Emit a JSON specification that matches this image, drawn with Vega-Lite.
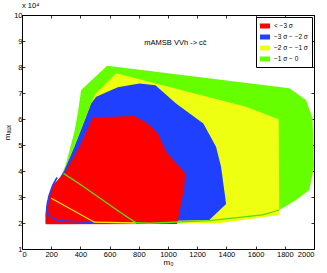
{
  "$schema": "https://vega.github.io/schema/vega-lite/v6.json",
  "width": 292,
  "height": 234,
  "autosize": {"type": "none"},
  "padding": {"left": 22, "top": 15, "right": 13, "bottom": 24},
  "config": {
    "font": "Liberation Sans",
    "view": {"stroke": null},
    "axis": {
      "grid": false,
      "domainColor": "black",
      "domainWidth": 1,
      "tickColor": "black",
      "tickWidth": 0.8,
      "labelColor": "black",
      "labelFontSize": 7.5,
      "titleColor": "black",
      "titleFontSize": 8,
      "titleFontWeight": "normal"
    },
    "legend": {
      "labelFont": "Liberation Sans"
    }
  },
  "title": {
    "text": "x 10⁴",
    "anchor": "start",
    "frame": "group",
    "fontSize": 7.5,
    "fontWeight": "normal",
    "color": "black",
    "offset": 2
  },
  "datasets": {
    "poly": [
      {"level": "−1 σ − 0", "i": 0, "m0": 583, "maux": 80500},
      {"level": "−1 σ − 0", "i": 1, "m0": 405, "maux": 71200},
      {"level": "−1 σ − 0", "i": 2, "m0": 382, "maux": 62200},
      {"level": "−1 σ − 0", "i": 3, "m0": 359, "maux": 55100},
      {"level": "−1 σ − 0", "i": 4, "m0": 302, "maux": 43000},
      {"level": "−1 σ − 0", "i": 5, "m0": 268, "maux": 37800},
      {"level": "−1 σ − 0", "i": 6, "m0": 211, "maux": 32700},
      {"level": "−1 σ − 0", "i": 7, "m0": 175, "maux": 28500},
      {"level": "−1 σ − 0", "i": 8, "m0": 161, "maux": 23100},
      {"level": "−1 σ − 0", "i": 9, "m0": 161, "maux": 19700},
      {"level": "−1 σ − 0", "i": 10, "m0": 873, "maux": 19900},
      {"level": "−1 σ − 0", "i": 11, "m0": 1283, "maux": 20900},
      {"level": "−1 σ − 0", "i": 12, "m0": 1648, "maux": 23100},
      {"level": "−1 σ − 0", "i": 13, "m0": 1762, "maux": 25000},
      {"level": "−1 σ − 0", "i": 14, "m0": 1877, "maux": 28800},
      {"level": "−1 σ − 0", "i": 15, "m0": 1968, "maux": 32700},
      {"level": "−1 σ − 0", "i": 16, "m0": 2000, "maux": 41700},
      {"level": "−1 σ − 0", "i": 17, "m0": 1990, "maux": 60300},
      {"level": "−1 σ − 0", "i": 18, "m0": 1945, "maux": 67300},
      {"level": "−1 σ − 0", "i": 19, "m0": 1831, "maux": 71800},

      {"level": "−2 σ − −1 σ", "i": 0, "m0": 645, "maux": 77600},
      {"level": "−2 σ − −1 σ", "i": 1, "m0": 500, "maux": 69500},
      {"level": "−2 σ − −1 σ", "i": 2, "m0": 470, "maux": 65500},
      {"level": "−2 σ − −1 σ", "i": 3, "m0": 430, "maux": 60000},
      {"level": "−2 σ − −1 σ", "i": 4, "m0": 350, "maux": 48500},
      {"level": "−2 σ − −1 σ", "i": 5, "m0": 295, "maux": 41000},
      {"level": "−2 σ − −1 σ", "i": 6, "m0": 268, "maux": 37800},
      {"level": "−2 σ − −1 σ", "i": 7, "m0": 211, "maux": 32700},
      {"level": "−2 σ − −1 σ", "i": 8, "m0": 175, "maux": 28500},
      {"level": "−2 σ − −1 σ", "i": 9, "m0": 161, "maux": 23100},
      {"level": "−2 σ − −1 σ", "i": 10, "m0": 161, "maux": 19700},
      {"level": "−2 σ − −1 σ", "i": 11, "m0": 1352, "maux": 19900},
      {"level": "−2 σ − −1 σ", "i": 12, "m0": 1762, "maux": 23100},
      {"level": "−2 σ − −1 σ", "i": 13, "m0": 1762, "maux": 25500},
      {"level": "−2 σ − −1 σ", "i": 14, "m0": 1758, "maux": 59900},
      {"level": "−2 σ − −1 σ", "i": 15, "m0": 1534, "maux": 64700},

      {"level": "−3 σ − −2 σ", "i": 0, "m0": 508, "maux": 68600},
      {"level": "−3 σ − −2 σ", "i": 1, "m0": 656, "maux": 72200},
      {"level": "−3 σ − −2 σ", "i": 2, "m0": 804, "maux": 73700},
      {"level": "−3 σ − −2 σ", "i": 3, "m0": 914, "maux": 73000},
      {"level": "−3 σ − −2 σ", "i": 4, "m0": 1055, "maux": 66000},
      {"level": "−3 σ − −2 σ", "i": 5, "m0": 1242, "maux": 58300},
      {"level": "−3 σ − −2 σ", "i": 6, "m0": 1329, "maux": 49300},
      {"level": "−3 σ − −2 σ", "i": 7, "m0": 1363, "maux": 41700},
      {"level": "−3 σ − −2 σ", "i": 8, "m0": 1398, "maux": 27300},
      {"level": "−3 σ − −2 σ", "i": 9, "m0": 1283, "maux": 21200},
      {"level": "−3 σ − −2 σ", "i": 10, "m0": 161, "maux": 19700},
      {"level": "−3 σ − −2 σ", "i": 11, "m0": 161, "maux": 23700},
      {"level": "−3 σ − −2 σ", "i": 12, "m0": 170, "maux": 28200},
      {"level": "−3 σ − −2 σ", "i": 13, "m0": 222, "maux": 34000},
      {"level": "−3 σ − −2 σ", "i": 14, "m0": 291, "maux": 40400},
      {"level": "−3 σ − −2 σ", "i": 15, "m0": 359, "maux": 49300},
      {"level": "−3 σ − −2 σ", "i": 16, "m0": 439, "maux": 60900},
      {"level": "−3 σ − −2 σ", "i": 17, "m0": 474, "maux": 66000},

      {"level": "< −3 σ", "i": 0, "m0": 485, "maux": 60700},
      {"level": "< −3 σ", "i": 1, "m0": 770, "maux": 61200},
      {"level": "< −3 σ", "i": 2, "m0": 861, "maux": 58300},
      {"level": "< −3 σ", "i": 3, "m0": 930, "maux": 54500},
      {"level": "< −3 σ", "i": 4, "m0": 987, "maux": 47400},
      {"level": "< −3 σ", "i": 5, "m0": 1117, "maux": 39100},
      {"level": "< −3 σ", "i": 6, "m0": 1112, "maux": 34000},
      {"level": "< −3 σ", "i": 7, "m0": 1066, "maux": 20500},
      {"level": "< −3 σ", "i": 8, "m0": 1060, "maux": 19600},
      {"level": "< −3 σ", "i": 9, "m0": 165, "maux": 19500},
      {"level": "< −3 σ", "i": 10, "m0": 165, "maux": 23100},
      {"level": "< −3 σ", "i": 11, "m0": 172, "maux": 25000},
      {"level": "< −3 σ", "i": 12, "m0": 183, "maux": 30100},
      {"level": "< −3 σ", "i": 13, "m0": 211, "maux": 34600},
      {"level": "< −3 σ", "i": 14, "m0": 291, "maux": 39100},
      {"level": "< −3 σ", "i": 15, "m0": 394, "maux": 49300},
      {"level": "< −3 σ", "i": 16, "m0": 485, "maux": 60700}
    ],
    "lines": [
      {"line": "blue", "i": 0, "m0": 240, "maux": 37500},
      {"line": "blue", "i": 1, "m0": 211, "maux": 34600},
      {"line": "blue", "i": 2, "m0": 183, "maux": 30100},
      {"line": "blue", "i": 3, "m0": 170, "maux": 25000},
      {"line": "blue", "i": 4, "m0": 188, "maux": 22400},
      {"line": "blue", "i": 5, "m0": 257, "maux": 20800},
      {"line": "blue", "i": 6, "m0": 500, "maux": 20200},
      {"line": "yellow", "i": 0, "m0": 200, "maux": 29500},
      {"line": "yellow", "i": 1, "m0": 496, "maux": 20300},
      {"line": "yellow", "i": 2, "m0": 781, "maux": 20000},
      {"line": "green", "i": 0, "m0": 284, "maux": 39100},
      {"line": "green", "i": 1, "m0": 405, "maux": 34600},
      {"line": "green", "i": 2, "m0": 667, "maux": 24300},
      {"line": "green", "i": 3, "m0": 781, "maux": 20100},
      {"line": "green", "i": 4, "m0": 873, "maux": 19900},
      {"line": "green", "i": 5, "m0": 1283, "maux": 20900},
      {"line": "green", "i": 6, "m0": 1648, "maux": 23100},
      {"line": "green", "i": 7, "m0": 1762, "maux": 25000}
    ],
    "labels": [
      {"m0": 1051, "maux": 89100, "text": "mAMSB  VVh -> cc̄"}
    ]
  },
  "resolve": {"axis": {"x": "independent", "y": "independent"}},
  "layer": [
    {
      "data": {"name": "poly"},
      "transform": [{"filter": "datum.level === '−1 σ − 0'"}],
      "mark": {"type": "line", "strokeOpacity": 0, "strokeWidth": 0},
      "encoding": {
        "x": {"field": "m0", "type": "quantitative", "scale": {"domain": [0, 2000], "nice": false, "zero": false},
          "axis": {"orient": "bottom", "values": [0, 200, 400, 600, 800, 1000, 1200, 1400, 1600, 1800, 2000], "format": "d", "title": "m₀", "tickSize": -3, "labelPadding": 4, "titlePadding": 1}},
        "y": {"field": "maux", "type": "quantitative", "scale": {"domain": [10000, 100000], "nice": false, "zero": false},
          "axis": {"orient": "left", "values": [10000, 20000, 30000, 40000, 50000, 60000, 70000, 80000, 90000, 100000], "labelExpr": "datum.value / 10000", "title": "mₐᵤₓ", "tickSize": -3, "labelPadding": 3, "titlePadding": 2}},
        "order": {"field": "i", "type": "quantitative"},
        "fill": {"field": "level", "type": "nominal",
          "scale": {"domain": ["< −3 σ", "−3 σ − −2 σ", "−2 σ − −1 σ", "−1 σ − 0"], "range": ["#ff0000", "#2040ff", "#eeff11", "#66ff00"]},
          "legend": {"title": null, "orient": "top-right", "offset": 2, "padding": 4, "rowPadding": 2, "labelFontSize": 6.5, "labelColor": "black", "symbolType": "M-1,-0.5L1,-0.5L1,0.5L-1,0.5Z", "symbolSize": 100, "symbolStrokeWidth": 0, "symbolOpacity": 1, "strokeColor": "black", "fillColor": "white", "cornerRadius": 0, "labelOffset": 4}}
      }
    },
    {
      "data": {"name": "poly"},
      "transform": [{"filter": "datum.level === '−2 σ − −1 σ'"}],
      "mark": {"type": "line", "strokeOpacity": 0, "strokeWidth": 0},
      "encoding": {
        "x": {"field": "m0", "type": "quantitative", "axis": null},
        "y": {"field": "maux", "type": "quantitative", "axis": null},
        "order": {"field": "i", "type": "quantitative"},
        "fill": {"field": "level", "type": "nominal"}
      }
    },
    {
      "data": {"name": "poly"},
      "transform": [{"filter": "datum.level === '−3 σ − −2 σ'"}],
      "mark": {"type": "line", "strokeOpacity": 0, "strokeWidth": 0},
      "encoding": {
        "x": {"field": "m0", "type": "quantitative", "axis": null},
        "y": {"field": "maux", "type": "quantitative", "axis": null},
        "order": {"field": "i", "type": "quantitative"},
        "fill": {"field": "level", "type": "nominal"}
      }
    },
    {
      "data": {"name": "poly"},
      "transform": [{"filter": "datum.level === '< −3 σ'"}],
      "mark": {"type": "line", "strokeOpacity": 0, "strokeWidth": 0},
      "encoding": {
        "x": {"field": "m0", "type": "quantitative", "axis": null},
        "y": {"field": "maux", "type": "quantitative", "axis": null},
        "order": {"field": "i", "type": "quantitative"},
        "fill": {"field": "level", "type": "nominal"}
      }
    },
    {
      "data": {"name": "lines"},
      "transform": [{"filter": "datum.line === 'blue'"}],
      "mark": {"type": "line", "color": "#2040ff", "strokeWidth": 1.6},
      "encoding": {
        "x": {"field": "m0", "type": "quantitative", "axis": null},
        "y": {"field": "maux", "type": "quantitative", "axis": null},
        "order": {"field": "i", "type": "quantitative"}
      }
    },
    {
      "data": {"name": "lines"},
      "transform": [{"filter": "datum.line === 'yellow'"}],
      "mark": {"type": "line", "color": "#ffe600", "strokeWidth": 1.3},
      "encoding": {
        "x": {"field": "m0", "type": "quantitative", "axis": null},
        "y": {"field": "maux", "type": "quantitative", "axis": null},
        "order": {"field": "i", "type": "quantitative"}
      }
    },
    {
      "data": {"name": "lines"},
      "transform": [{"filter": "datum.line === 'green'"}],
      "mark": {"type": "line", "color": "#55e000", "strokeWidth": 1.3},
      "encoding": {
        "x": {"field": "m0", "type": "quantitative", "axis": null},
        "y": {"field": "maux", "type": "quantitative", "axis": null},
        "order": {"field": "i", "type": "quantitative"}
      }
    },
    {
      "data": {"name": "labels"},
      "mark": {"type": "text", "fontSize": 7.5, "color": "black", "font": "Liberation Sans"},
      "encoding": {
        "x": {"field": "m0", "type": "quantitative", "axis": {"orient": "top", "values": [0, 200, 400, 600, 800, 1000, 1200, 1400, 1600, 1800, 2000], "labels": false, "title": null, "tickSize": -3}},
        "y": {"field": "maux", "type": "quantitative", "axis": {"orient": "right", "values": [10000, 20000, 30000, 40000, 50000, 60000, 70000, 80000, 90000, 100000], "labels": false, "title": null, "tickSize": -3}},
        "text": {"field": "text"}
      }
    }
  ]
}
